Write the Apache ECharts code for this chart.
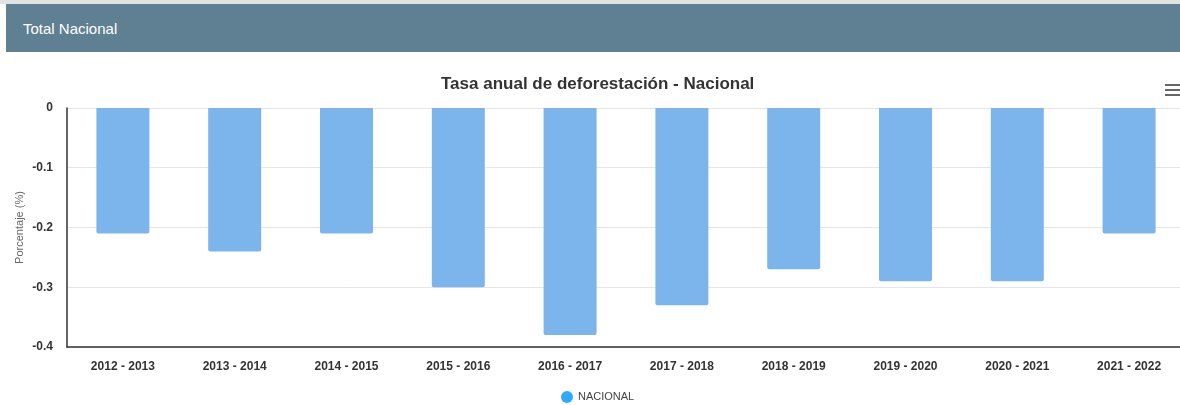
<!DOCTYPE html>
<html>
<head>
<meta charset="utf-8">
<script src="https://cdn.jsdelivr.net/npm/echarts@6/dist/echarts.min.js"></script>
<style>
html,body{margin:0;padding:0;background:#fff;}
#wrap{position:relative;width:1180px;height:405px;overflow:hidden;}
#strip{position:absolute;left:0;top:0;width:1180px;height:4px;background:#e2e2e2;}
#header{position:absolute;left:6px;top:4px;width:1174px;height:48px;background:#5f7f93;color:#fff;font-family:"Liberation Sans",Arial,sans-serif;font-size:15px;line-height:50px;padding-left:17px;box-sizing:border-box;}
#chart{position:absolute;left:0;top:0;width:1180px;height:405px;}
</style>
</head>
<body>
<div id="wrap">
<div id="chart"></div>
<div id="strip"></div>
<div id="header">Total Nacional</div>
</div>
<script>
const categories = ["2012 - 2013","2013 - 2014","2014 - 2015","2015 - 2016","2016 - 2017","2017 - 2018","2018 - 2019","2019 - 2020","2020 - 2021","2021 - 2022"];
const nacional = [-0.21,-0.24,-0.21,-0.30,-0.38,-0.33,-0.27,-0.29,-0.29,-0.21];
const seriesName = "NACIONAL";
const titleText = "Tasa anual de deforestación - Nacional";
const yAxisName = "Porcentaje (%)";

const chart = echarts.init(document.getElementById('chart'), null, {renderer:'canvas'});
const font = '"Liberation Sans", Arial, sans-serif';
chart.setOption({
  animation:false,
  textStyle:{fontFamily:font},
  title:{text:titleText,left:441,top:76,padding:0,textStyle:{fontSize:17,fontWeight:'bold',color:'#333',fontFamily:font}},
  legend:{data:[{name:seriesName,itemStyle:{color:'#2eaaff'}}],left:561,top:391,padding:0,icon:'circle',itemWidth:12,itemHeight:12,itemGap:5,
    textStyle:{fontSize:11,color:'#444',fontFamily:font}},
  grid:{left:67,top:108,width:1118,height:239,containLabel:false,outerBoundsMode:'none'},
  xAxis:{type:'category',data:categories,position:'bottom',
    axisLine:{show:true,onZero:false,lineStyle:{color:'#333',width:1.5}},
    axisTick:{show:false},
    axisLabel:{fontSize:12,fontWeight:'bold',color:'#333',margin:14,interval:0,fontFamily:font},
    splitLine:{show:false}},
  yAxis:{type:'value',min:-0.4,max:0,interval:0.1,
    name:yAxisName,nameLocation:'middle',nameRotate:90,nameGap:42,nameMoveOverlap:false,
    nameTextStyle:{fontSize:11,color:'#666',fontFamily:font},
    axisLine:{show:true,lineStyle:{color:'#333',width:1.5}},
    axisTick:{show:false},
    axisLabel:{fontSize:12,fontWeight:'bold',color:'#333',margin:14,fontFamily:font,
      formatter:v=>{const r=Math.round(v*10)/10;return r===0?'0':r.toFixed(1);}},
    splitLine:{show:true,lineStyle:{color:'#e6e6e6',width:1}}},
  series:[{name:seriesName,type:'bar',data:nacional,barWidth:53,
    itemStyle:{color:'#7cb5ec',borderRadius:[0,0,2,2]}}],
  graphic:[
    {type:'rect',left:1165,top:84,shape:{width:15,height:2},style:{fill:'#666'}},
    {type:'rect',left:1165,top:89,shape:{width:15,height:2},style:{fill:'#666'}},
    {type:'rect',left:1165,top:94,shape:{width:15,height:2},style:{fill:'#666'}}
  ]
});
</script>
</body>
</html>
